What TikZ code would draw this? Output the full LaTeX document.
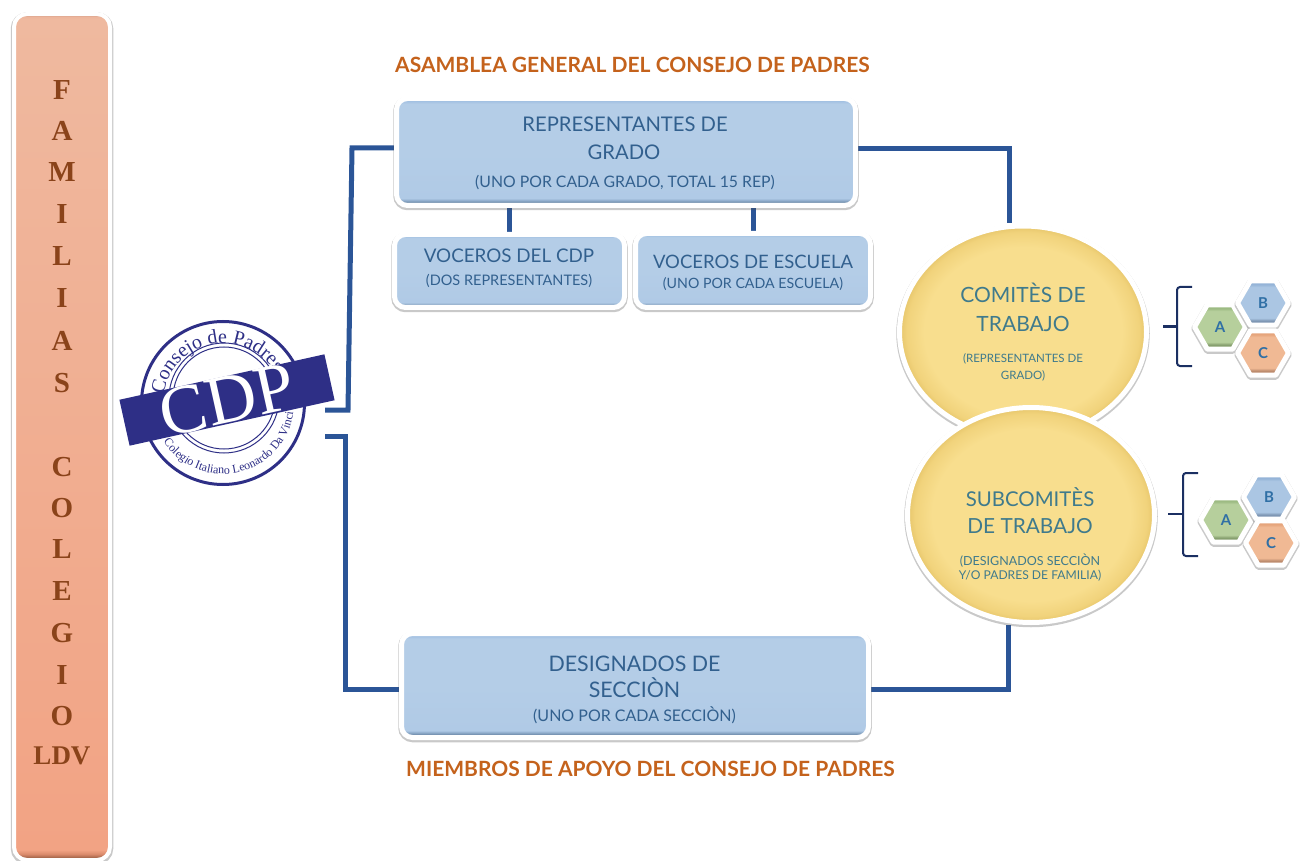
\documentclass[tikz,border=0pt]{standalone}
\usepackage{fontspec}
\setmainfont{Lato}
\newfontfamily\serifb{Liberation Serif}
\usetikzlibrary{shapes.geometric,shadows,decorations.text,backgrounds,calc}
\definecolor{linkblue}{HTML}{2B5597}
\definecolor{navy}{HTML}{1B2F62}
\definecolor{stampblue}{HTML}{2E2F86}
\definecolor{titleorange}{HTML}{C4621C}
\definecolor{barbrown}{HTML}{8A431A}
\definecolor{boxtextc}{HTML}{32608E}
\definecolor{circtext}{HTML}{3F7A8C}
\definecolor{hexletter}{HTML}{2F6FA5}
\definecolor{bA}{HTML}{6A86A4}\definecolor{bB}{HTML}{8FACCB}\definecolor{bC}{HTML}{B0CAE6}\definecolor{bD}{HTML}{B4CDE7}\definecolor{bE}{HTML}{A3C1E2}\definecolor{bF}{HTML}{8FB0D6}
\definecolor{rA}{HTML}{A5654A}\definecolor{rB}{HTML}{D98A6B}\definecolor{rC}{HTML}{F2A384}\definecolor{rD}{HTML}{EFB99F}\definecolor{rE}{HTML}{EDB49B}\definecolor{rF}{HTML}{B98A75}
\definecolor{gA}{HTML}{87A06F}\definecolor{gB}{HTML}{B6CF9C}\definecolor{gC}{HTML}{9DBB83}
\definecolor{uA}{HTML}{7F97B4}\definecolor{uB}{HTML}{ABC6E3}\definecolor{uC}{HTML}{95B4D8}
\definecolor{oA}{HTML}{BD8C6E}\definecolor{oB}{HTML}{F0B994}\definecolor{oC}{HTML}{E6A57C}
\definecolor{yA}{HTML}{F8DE8E}\definecolor{yB}{HTML}{F1D37C}\definecolor{yC}{HTML}{E6C56A}
\pgfdeclareverticalshading{bluebev}{100bp}{color(0bp)=(bA);color(26.2bp)=(bA);color(27.4bp)=(bB);color(28.4bp)=(bC);color(50bp)=(bD);color(72.5bp)=(bD);color(73.8bp)=(bE);color(75bp)=(bF);color(100bp)=(bF)}
\pgfdeclareverticalshading{barbev}{100bp}{color(0bp)=(rA);color(25.15bp)=(rA);color(25.35bp)=(rB);color(25.6bp)=(rC);color(74.7bp)=(rD);color(74.85bp)=(rE);color(75bp)=(rF);color(100bp)=(rF)}
\pgfdeclareverticalshading{hexgreen}{100bp}{color(0bp)=(gA);color(30bp)=(gA);color(33bp)=(gB);color(68bp)=(gB);color(71bp)=(gC);color(100bp)=(gC)}
\pgfdeclareverticalshading{hexblue}{100bp}{color(0bp)=(uA);color(30bp)=(uA);color(33bp)=(uB);color(68bp)=(uB);color(71bp)=(uC);color(100bp)=(uC)}
\pgfdeclareverticalshading{hexorange}{100bp}{color(0bp)=(oA);color(30bp)=(oA);color(33bp)=(oB);color(68bp)=(oB);color(71bp)=(oC);color(100bp)=(oC)}
\pgfdeclareradialshading{yellowdisc}{\pgfpointorigin}{color(0bp)=(yA);color(20bp)=(yA);color(23.5bp)=(yB);color(25bp)=(yC);color(50bp)=(yC)}
\tikzset{
  softshadow/.style={drop shadow={opacity=.3,shadow xshift=0pt,shadow yshift=-1.5pt,fill=black!70,draw=black!70,line width=6.5pt}},
  bluebox/.style={rectangle,rounded corners=11pt,draw=white,line width=5pt,shading=bluebev,softshadow,inner sep=0pt},
  sidebar/.style={rectangle,rounded corners=13pt,draw=white,line width=4pt,shading=barbev,softshadow,inner sep=0pt},
  disc/.style={ellipse,draw=white,line width=5pt,shading=yellowdisc,softshadow,inner sep=0pt},
  hexa/.style={regular polygon,regular polygon sides=6,minimum size=51pt,draw=white,line width=5pt,line join=round,softshadow,inner sep=0pt,text=hexletter,font=\bfseries\fontsize{15}{15}\selectfont},
  link/.style={draw=linkblue,line width=5pt,line cap=butt,line join=miter},
  bracketline/.style={draw=navy,line width=2pt,rounded corners=3pt},
  barletter/.style={text=barbrown,font=\serifb\bfseries\fontsize{29}{29}\selectfont,inner sep=0pt},
  headline/.style={text=titleorange,anchor=base,font=\bfseries\fontsize{21}{24}\selectfont,inner sep=0pt},
  boxlabel/.style={text=boxtextc,anchor=base,inner sep=0pt,font=\fontsize{#1}{#1}\selectfont},
  disclabel/.style={text=circtext,anchor=base,inner sep=0pt,font=\fontsize{#1}{#1}\selectfont}
}
\begin{document}
\begin{tikzpicture}[x=1pt,y=-1pt]
\useasboundingbox (0,0) rectangle (1302,861);
% side bar
\node[sidebar,minimum width=96pt,minimum height=846pt] (bar) at (62,437) {};
\foreach \t/\yy/\n in {F/90/a,A/131/b,M/172/c,I/214/d,L/256/e,I/298/f,A/341/g,S/383/h,C/467/i,O/508/j,L/549/k,E/591/l,G/633/m,I/675/n,O/716/o}
  \node[barletter] (letter\n) at (62,\yy) {\t};
\node[barletter,font=\serifb\bfseries\fontsize{27}{27}\selectfont] (letterldv) at (62,756) {LDV};
% headlines
\node[headline] (asamblea) at (632.5,73) {ASAMBLEA GENERAL DEL CONSEJO DE PADRES};
\node[headline] (miembros) at (650.5,776) {MIEMBROS DE APOYO DEL CONSEJO DE PADRES};
% boxes
\node[bluebox,minimum width=459pt,minimum height=107pt] (rep) at (626,152) {};
\node[bluebox,minimum width=230pt,minimum height=73pt] (vcdp) at (509.5,271) {};
\node[bluebox,minimum width=235pt,minimum height=74pt] (vesc) at (753,270.5) {};
\node[bluebox,minimum width=467pt,minimum height=104pt] (des) at (635,685.5) {};
\node[boxlabel=20.2] (repA) at (625,132) {REPRESENTANTES DE};
\node[boxlabel=20.2] (repB) at (624,160) {GRADO};
\node[boxlabel=15.8] (repC) at (625,188) {(UNO POR CADA GRADO, TOTAL 15 REP)};
\node[boxlabel=18.8] (vcdpA) at (509,263) {VOCEROS DEL CDP};
\node[boxlabel=14.5] (vcdpB) at (509,285.5) {(DOS REPRESENTANTES)};
\node[boxlabel=18.5] (vescA) at (753,269) {VOCEROS DE ESCUELA};
\node[boxlabel=14.2] (vescB) at (753,288) {(UNO POR CADA ESCUELA)};
\node[boxlabel=21.4] (desA) at (634.5,671) {DESIGNADOS DE};
\node[boxlabel=21.4] (desB) at (634.5,697) {SECCIÒN};
\node[boxlabel=16] (desC) at (634.5,721) {(UNO POR CADA SECCIÒN)};
% discs
\node[disc,minimum width=247pt,minimum height=212pt] (com) at (1023,332) {};
\node[disc,minimum width=247pt,minimum height=215pt] (sub) at (1031,515) {};
\node[disclabel=21] (comA) at (1023,302) {COMITÈS DE};
\node[disclabel=21] (comB) at (1023,331) {TRABAJO};
\node[disclabel=11.5] (comC) at (1023,362) {(REPRESENTANTES DE};
\node[disclabel=11.5] (comD) at (1023,379) {GRADO)};
\node[disclabel=20.4] (subA) at (1030,506) {SUBCOMITÈS};
\node[disclabel=20.8] (subB) at (1030,533) {DE TRABAJO};
\node[disclabel=12.5] (subC) at (1030,565) {(DESIGNADOS SECCIÒN};
\node[disclabel=12.1] (subD) at (1030,579) {Y/O PADRES DE FAMILIA)};
% hexagon groups
\node[hexa,shading=hexgreen] (a1) at (1220,327) {A};
\node[hexa,shading=hexblue] (b1) at (1263,303) {B};
\node[hexa,shading=hexorange] (c1) at (1263,353) {C};
\node[hexa,shading=hexgreen] (a2) at (1226,520) {A};
\node[hexa,shading=hexblue] (b2) at (1269,497) {B};
\node[hexa,shading=hexorange] (c2) at (1271,543) {C};
% brackets
\coordinate (br1t) at (1192,287); \coordinate (br1b) at (1192,366); \coordinate (br1m) at (1177,326); \coordinate (br1s) at (1163,326);
\coordinate (br2t) at (1198,473); \coordinate (br2b) at (1198,556); \coordinate (br2m) at (1183,514); \coordinate (br2s) at (1168,514);
\draw[bracketline] (br1t) -| (br1m) |- (br1b);
\draw[draw=navy,line width=3pt] (br1s) -- (br1m);
\draw[bracketline] (br2t) -| (br2m) |- (br2b);
\draw[draw=navy,line width=2.5pt] (br2s) -- (br2m);
% stamp
\coordinate (stampc) at (223,403);
\node[circle,draw=stampblue,line width=3pt,minimum size=163pt,inner sep=0pt] (stamp) at (stampc) {};
\draw[stampblue,line width=1pt] (224,398) circle[radius=55pt];
\draw[stampblue,line width=1pt] (224,398) circle[radius=51pt];
\path[decorate,decoration={text along path,text align=center,text={|\serifb\fontsize{20}{20}\selectfont\color{stampblue}|Consejo de Padres}}]
  (stampc) ++(172:60pt) arc[start angle=172,end angle=30,radius=60pt];
\path[decorate,decoration={text along path,text align=center,text={|\serifb\fontsize{12}{12}\selectfont\color{stampblue}|Colegio Italiano Leonardo Da Vinci}}]
  (stampc) ++(208:71pt) arc[start angle=208,end angle=358,radius=71pt];
\node[rectangle,fill=stampblue,minimum width=210pt,minimum height=46pt,rotate=12.5,inner sep=0pt,text=white,font=\serifb\fontsize{70}{70}\selectfont] (band) at (227,400) {CDP};
\coordinate (stampup) at (325,410);
\coordinate (stampdn) at (325,436);
\coordinate (upbend) at (348,410);
\coordinate (upbend2) at (352,148);
\coordinate (dnbend) at (345,436);
\coordinate (dnbend2) at (345,689);
\coordinate (rtbend) at (1009,149);
\coordinate (rbbend) at (1008,689);
% connectors
\begin{scope}[on background layer]
\draw[link] (stampup) -- (upbend) -- (upbend2) -- (rep.west |- upbend2);
\draw[link] (stampdn) -- (dnbend) -- (dnbend2) -- (des.west |- dnbend2);
\draw[link] (rep.east |- rtbend) -- (rtbend) -- (com.north -| rtbend);
\draw[link] (des.east |- rbbend) -- (rbbend) -- (sub.south -| rbbend);
\draw[link] (rep.south -| vcdp) -- (vcdp);
\draw[link] (rep.south -| vesc) -- (vesc);
\end{scope}
\end{tikzpicture}
\end{document}
